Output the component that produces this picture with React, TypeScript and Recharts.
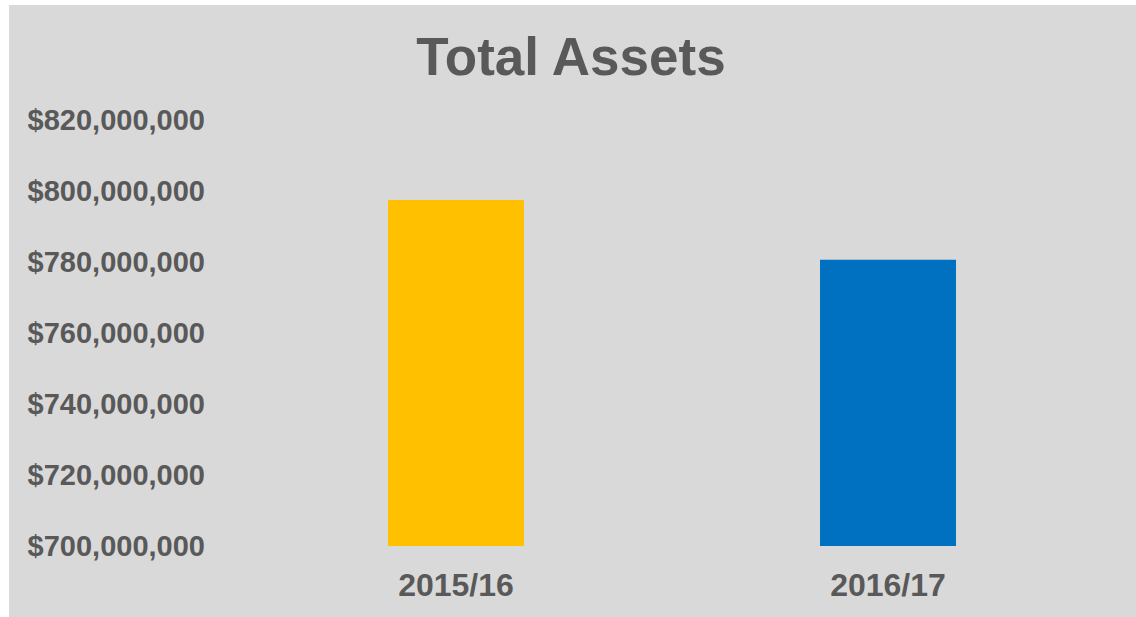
import { BarChart, Bar, XAxis, YAxis, Cell } from "recharts";

const years = ["2015/16", "2016/17"];
const totalAssets = [797500000, 780600000];
const barColors = ["#FFC000", "#0070C0"];
const yTicks = [700000000, 720000000, 740000000, 760000000, 780000000, 800000000, 820000000];

const data = years.map((year, i) => ({ year, value: totalAssets[i] }));

const FONT = '"Liberation Sans", Arial, sans-serif';
const TEXT_COLOR = "#595959";

const money = (v: number) => `$${v.toLocaleString("en-US")}`;

export default function App() {
  return (
    <div
      style={{
        position: "absolute",
        left: 9,
        top: 5,
        width: 1127,
        height: 612,
        background: "#d9d9d9",
        fontFamily: FONT,
      }}
    >
      <div
        style={{
          position: "absolute",
          left: 0,
          top: 26,
          width: 1124,
          textAlign: "center",
          fontSize: 53,
          lineHeight: "52px",
          fontWeight: "bold",
          color: TEXT_COLOR,
        }}
      >
        Total Assets
      </div>
      <BarChart
        width={1127}
        height={612}
        data={data}
        margin={{ top: 115, right: 32, bottom: 0, left: 0 }}
        barCategoryGap={148}
      >
        <XAxis
          dataKey="year"
          height={71}
          axisLine={false}
          tickLine={false}
          tickSize={0}
          tickMargin={27}
          tick={{ fontSize: 32, fontWeight: "bold", fill: TEXT_COLOR, fontFamily: FONT }}
        />
        <YAxis
          type="number"
          width={231}
          domain={[700000000, 820000000]}
          ticks={yTicks}
          allowDataOverflow
          axisLine={false}
          tickLine={false}
          tickSize={0}
          tickMargin={35}
          tickFormatter={money}
          tick={{ fontSize: 29, fontWeight: "bold", fill: TEXT_COLOR, fontFamily: FONT }}
        />
        <Bar dataKey="value" isAnimationActive={false}>
          {data.map((d, i) => (
            <Cell key={d.year} fill={barColors[i]} />
          ))}
        </Bar>
      </BarChart>
    </div>
  );
}
